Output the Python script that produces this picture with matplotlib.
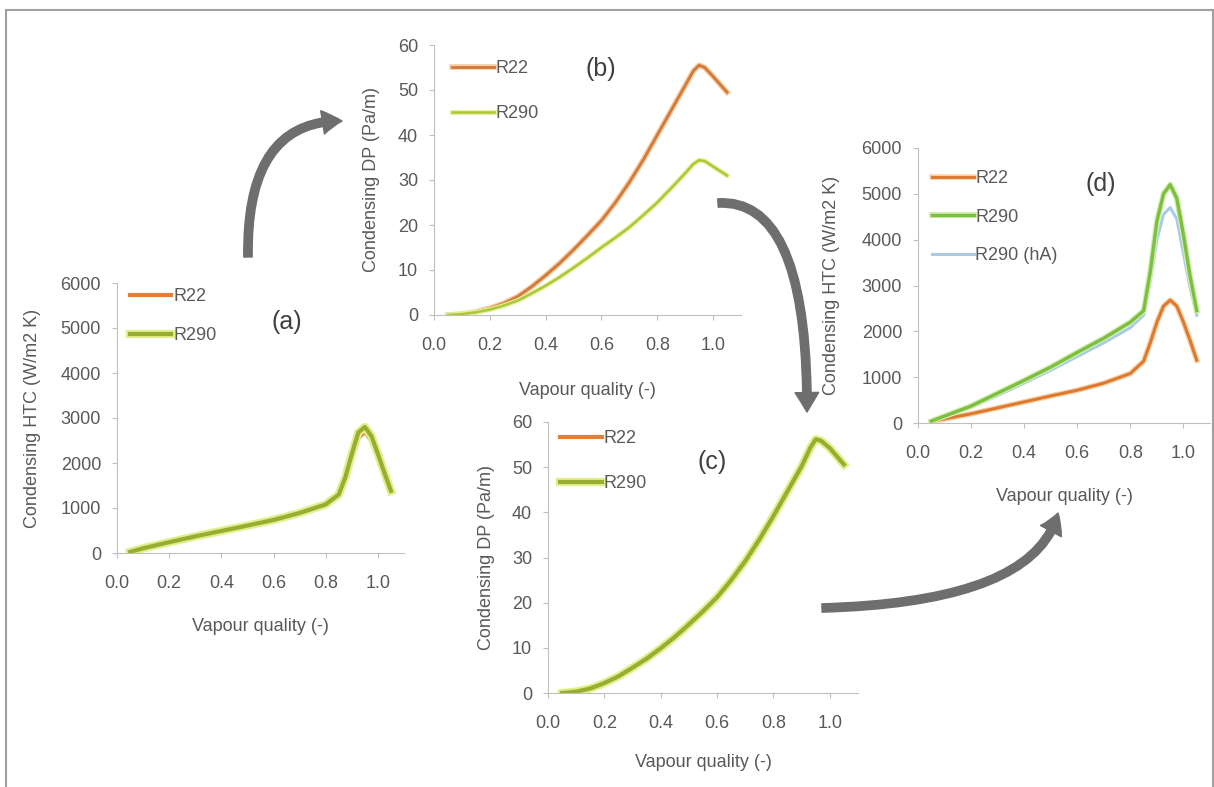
import numpy as np
import matplotlib
matplotlib.use("Agg")
import matplotlib.pyplot as plt
import matplotlib.patheffects as pe
from matplotlib.patches import FancyArrowPatch
from matplotlib.path import Path
from matplotlib.lines import Line2D
from matplotlib.transforms import Affine2D

# ===== data =====
x_q = [0.05, 0.1, 0.2, 0.3, 0.4, 0.5, 0.6, 0.7, 0.8, 0.85, 0.875, 0.9,
       0.925, 0.95, 0.975, 1.0, 1.025, 1.05]
x_dp = [0.05, 0.1, 0.15, 0.2, 0.25, 0.3, 0.35, 0.4, 0.45, 0.5, 0.55, 0.6,
        0.65, 0.7, 0.75, 0.8, 0.85, 0.9, 0.93, 0.95, 0.97, 1.0, 1.05]

# (a) HTC
htc_a_r22 = [20, 100, 230, 360, 480, 600, 720, 870, 1050, 1250, 1600, 2100,
             2550, 2700, 2500, 2150, 1750, 1350]
htc_a_r290 = [25, 105, 240, 370, 490, 610, 735, 890, 1080, 1300, 1680, 2200,
              2680, 2800, 2600, 2200, 1780, 1380]

# (b) DP
dp_b_r22 = [0, 0.2, 0.7, 1.5, 2.6, 4.1, 6.3, 8.8, 11.5, 14.5, 17.7, 21,
            25, 29.5, 34.5, 40, 45.5, 51, 54.3, 55.5, 55, 53, 49.5]
dp_b_r290 = [0, 0.2, 0.6, 1.2, 2.1, 3.2, 4.8, 6.5, 8.4, 10.5, 12.7, 15,
             17.2, 19.5, 22.2, 25, 28.2, 31.5, 33.6, 34.4, 34.2, 33, 31]

# (c) DP
dp_c_r22 = [0, 0.3, 1.0, 2.2, 3.7, 5.5, 7.5, 9.8, 12.3, 15, 17.9, 21,
            24.8, 29, 33.8, 39, 44.5, 50, 54, 56, 55.6, 54, 50.5]
dp_c_r290 = [0, 0.3, 1.0, 2.2, 3.7, 5.6, 7.6, 9.9, 12.4, 15.2, 18.1, 21.2,
             25, 29.2, 34, 39.2, 44.7, 50.2, 54.2, 56.2, 55.8, 54.2, 50.6]

# (d) HTC
htc_d_r22 = [30, 90, 200, 330, 460, 590, 715, 870, 1080, 1350, 1750, 2200,
             2550, 2680, 2550, 2200, 1800, 1370]
htc_d_r290 = [40, 150, 370, 650, 930, 1220, 1540, 1850, 2200, 2450, 3300, 4400,
              5000, 5200, 4900, 4100, 3200, 2450]
htc_d_hA = [40, 140, 340, 600, 870, 1150, 1450, 1750, 2080, 2350, 3100, 4000,
            4550, 4700, 4450, 3700, 2950, 2350]

xticks = [0.0, 0.2, 0.4, 0.6, 0.8, 1.0]

# ===== style =====
plt.rcParams["font.family"] = ["Liberation Sans", "DejaVu Sans"]
TXT = "#595959"
AXC = "#BFBFBF"
C_R22 = "#E0803A"
FS = 13

W, H = 1214, 787
fig = plt.figure(figsize=(W / 100, H / 100), dpi=100)
px = Affine2D().scale(1 / W, -1 / H).translate(0, 1) + fig.transFigure


def make_ax(left, top, w, h, ymax, ystep, ylabel, tag, tagpos, ylab_x, xlab_y):
    ax = fig.add_axes([left / W, 1 - (top + h) / H, w / W, h / H])
    ax.set_xlim(0, 1.1)
    ax.set_ylim(0, ymax)
    ax.set_xticks(xticks)
    ax.set_xticklabels([f"{t:.1f}" for t in xticks])
    ax.set_yticks(np.arange(0, ymax + 1, ystep))
    for s in ["top", "right"]:
        ax.spines[s].set_visible(False)
    for s in ["left", "bottom"]:
        ax.spines[s].set_color(AXC)
    ax.tick_params(colors=AXC, labelcolor=TXT, labelsize=FS, length=3.5)
    ax.tick_params(axis="x", pad=12)
    ax.tick_params(axis="y", pad=8)
    ax.set_xlabel("Vapour quality (-)", fontsize=FS, color=TXT)
    ax.set_ylabel(ylabel, fontsize=FS, color=TXT)
    ax.xaxis.set_label_coords(0.5, xlab_y)
    ax.xaxis.label.set_va("center")
    ax.yaxis.set_label_coords(ylab_x, 0.5)
    ax.yaxis.label.set_va("center")
    ax.text(tagpos[0], tagpos[1], tag, transform=ax.transAxes, fontsize=18,
            color="#404040", ha="center", va="center")
    return ax


def legend(ax, anchor, spacing, handles=None):
    ax.legend(handles=handles, loc="upper left", bbox_to_anchor=anchor,
              frameon=False, fontsize=FS, handlelength=2.3, handletextpad=0.1,
              labelspacing=spacing, borderpad=0, borderaxespad=0,
              labelcolor=TXT)


glow = [pe.Stroke(linewidth=6, foreground="#E4EE8C"), pe.Normal()]

# ----- (a) -----
ax_a = make_ax(117, 283, 287, 270, 6000, 1000, "Condensing HTC (W/m2 K)", "(a)",
               (0.59, 0.855), -0.293, -0.274)
ax_a.plot(x_q, htc_a_r22, color=C_R22, lw=3, label="R22")
ax_a.plot(x_q, htc_a_r290, color="#97AE30", lw=3, label="R290", path_effects=glow)
legend(ax_a, (0.045, 0.98), 1.2)

# ----- (b) -----
ax_b = make_ax(434, 45, 307, 270, 60, 10, "Condensing DP (Pa/m)", "(b)",
               (0.544, 0.91), -0.202, -0.278)
ax_b.plot(x_dp, dp_b_r22, color="#D27A3A", lw=2, label="R22",
          path_effects=[pe.Stroke(linewidth=4, foreground="#F6C9A0"), pe.Normal()])
ax_b.plot(x_dp, dp_b_r290, color="#A9C93A", lw=1.8, label="R290",
          path_effects=[pe.Stroke(linewidth=3.5, foreground="#E8F09A"), pe.Normal()])
legend(ax_b, (0.059, 0.944), 1.55)

# ----- (c) -----
ax_c = make_ax(548, 422, 310, 271, 60, 10, "Condensing DP (Pa/m)", "(c)",
               (0.53, 0.852), -0.197, -0.258)
ax_c.plot(x_dp, dp_c_r22, color=C_R22, lw=3, label="R22")
ax_c.plot(x_dp, dp_c_r290, color="#97AE30", lw=3, label="R290", path_effects=glow)
legend(ax_c, (0.039, 0.97), 1.55)

# ----- (d) -----
ax_d = make_ax(918, 148, 292, 275, 6000, 1000, "Condensing HTC (W/m2 K)", "(d)",
               (0.627, 0.869), -0.295, -0.269)
l1, = ax_d.plot(x_q, htc_d_r22, color="#DD7A30", lw=2.2, label="R22",
                path_effects=[pe.Stroke(linewidth=4, foreground="#F8D2A8"), pe.Normal()])
l3, = ax_d.plot(x_q, htc_d_hA, color="#A8CCE8", lw=2.2, label="R290 (hA)")
l2, = ax_d.plot(x_q, htc_d_r290, color="#7DBF3E", lw=2.4, label="R290",
                path_effects=[pe.Stroke(linewidth=4.2, foreground="#D2EDB0"), pe.Normal()])
legend(ax_d, (0.048, 0.92), 1.2, handles=[l1, l2, l3])

# ===== arrows =====
arrows = [
    [(248, 257), (246, 120), (342, 121)],
    [(718, 203), (808, 198), (807, 412)],
    [(822, 608), (1035, 602), (1058, 513)],
]
for pts in arrows:
    p = Path(pts, [Path.MOVETO, Path.CURVE3, Path.CURVE3])
    fig.patches.append(FancyArrowPatch(
        path=p, transform=px, color="#6E6E6E", mutation_scale=1,
        arrowstyle="simple,head_width=17,head_length=14,tail_width=6"))

# ===== frame =====
for xs, ys in [([6, 6], [10, 800]), ([6, 1213], [10, 10]), ([1213, 1213], [10, 800])]:
    fig.add_artist(Line2D(xs, ys, transform=px, color="#A0A0A0", lw=1.5))

plt.savefig("out.png", dpi=100)
